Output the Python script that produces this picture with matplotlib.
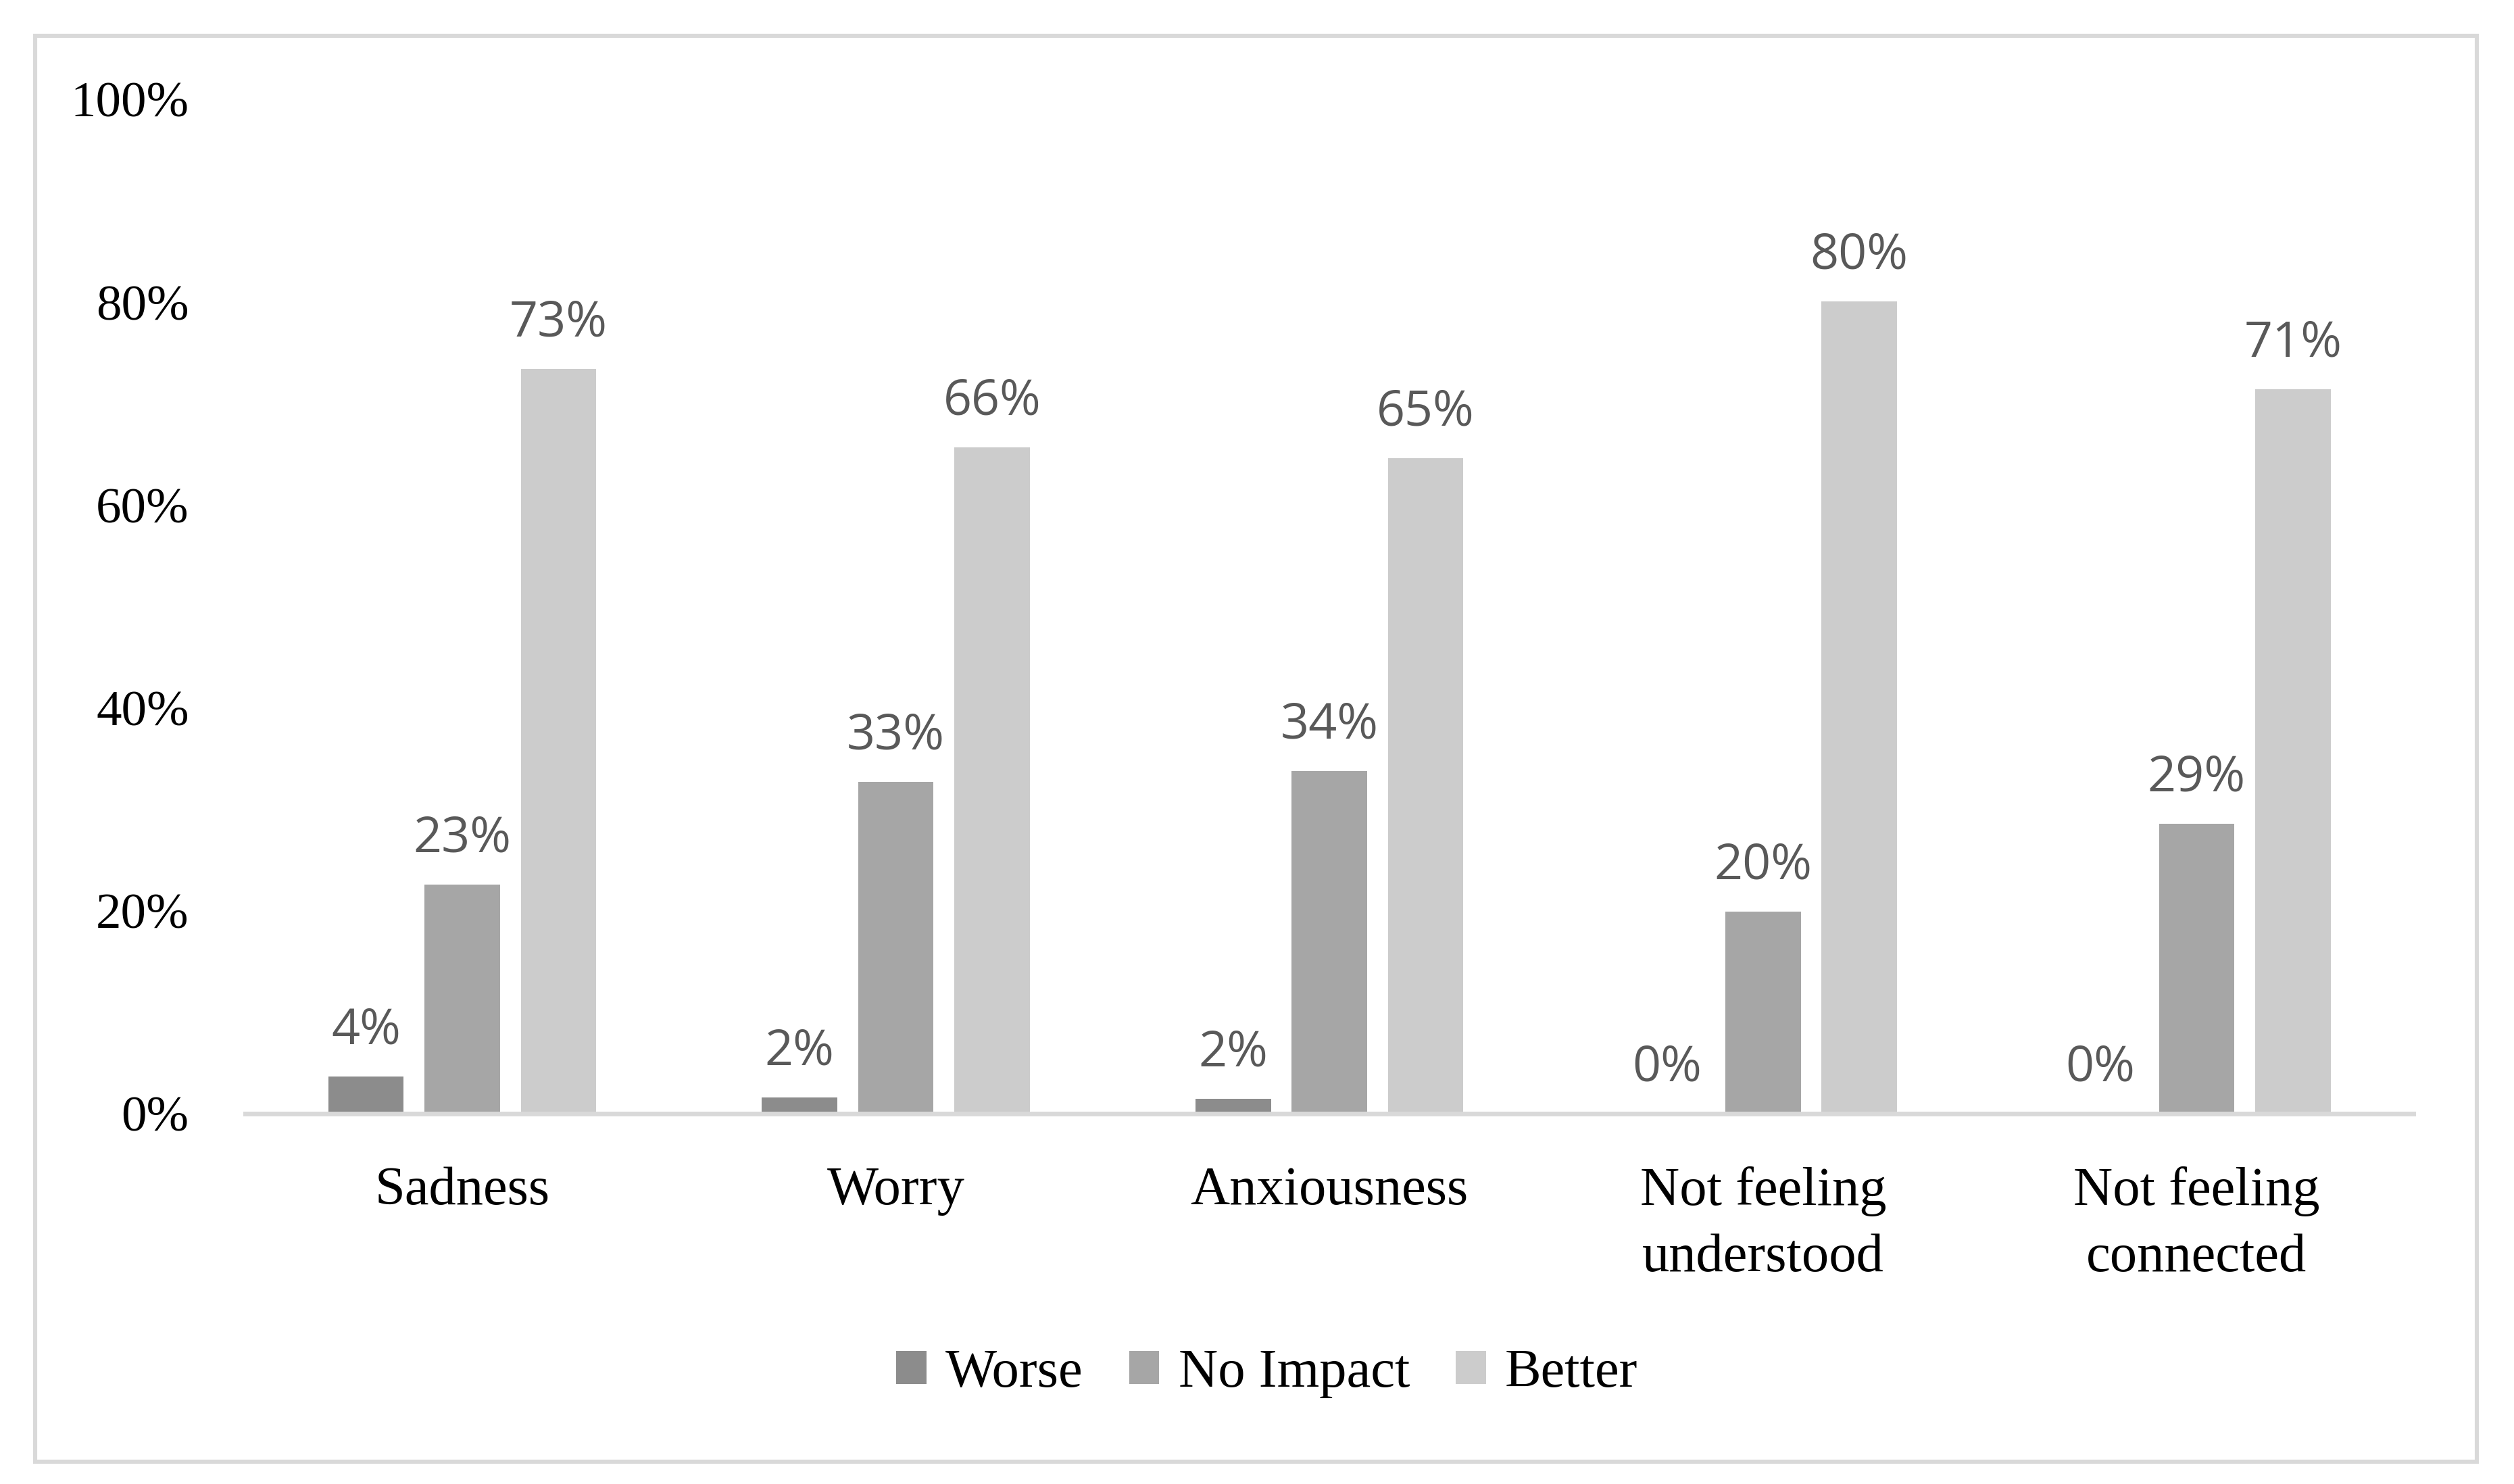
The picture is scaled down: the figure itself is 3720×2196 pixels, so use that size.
import numpy as np
import matplotlib
matplotlib.use("Agg")
from matplotlib import pyplot as plt
from matplotlib.patches import Rectangle

categories = ["Sadness", "Worry", "Anxiousness", "Not feeling\nunderstood", "Not feeling\nconnected"]
worse = [3.7, 1.6, 1.5, 0, 0]
no_impact = [22.6, 32.7, 33.8, 19.9, 28.6]
better = [73.4, 65.7, 64.6, 80.1, 71.4]
series_names = ["Worse", "No Impact", "Better"]
yticks = [0, 20, 40, 60, 80, 100]

colors = ["#8c8c8c", "#a6a6a6", "#cccccc"]
serif = "Liberation Serif"
sans = "Open Sans"

fig = plt.figure(figsize=(18.6, 10.98), dpi=200)
ax = fig.add_axes([0.0976, 0.2495, 0.8624, 0.6835])

# outer frame
fig.patches.append(Rectangle((0.014, 0.015), 0.9713, 0.961, transform=fig.transFigure,
                             fill=False, edgecolor="#d9d9d9", linewidth=2.2, zorder=0))

x = np.arange(len(categories))
width = 0.174
step = 0.222
for i, (name, vals) in enumerate(zip(series_names, [worse, no_impact, better])):
    pos = x + (i - 1) * step
    ax.bar(pos, vals, width, color=colors[i], label=name, zorder=2)
    for px, v in zip(pos, vals):
        ax.annotate("%.0f%%" % v, (px, v), xytext=(0, 11), textcoords="offset points",
                    ha="center", va="bottom", fontsize=26.5, color="#595959", family=sans)

ax.set_xlim(-0.5, len(categories) - 0.5)
ax.set_ylim(0, 100)
ax.set_yticks(yticks)
ax.set_yticklabels(["%d%%" % t for t in yticks], family=serif, fontsize=27)
ax.set_xticks(x)
ax.set_xticklabels(categories, family=serif, fontsize=29, linespacing=1.45)
ax.tick_params(axis="y", length=0, pad=30)
ax.tick_params(axis="x", length=0, pad=28)

for s in ["top", "right", "left"]:
    ax.spines[s].set_visible(False)
ax.spines["bottom"].set_color("#d9d9d9")
ax.spines["bottom"].set_linewidth(2.5)
ax.spines["bottom"].set_zorder(3)

fig.legend(loc="center", bbox_to_anchor=(0.504, 0.0745), ncol=3, frameon=False,
           prop={"family": serif, "size": 29}, handlelength=0.55, handleheight=0.55,
           handletextpad=0.35, columnspacing=0.85)

fig.savefig("out.png", dpi=200)
